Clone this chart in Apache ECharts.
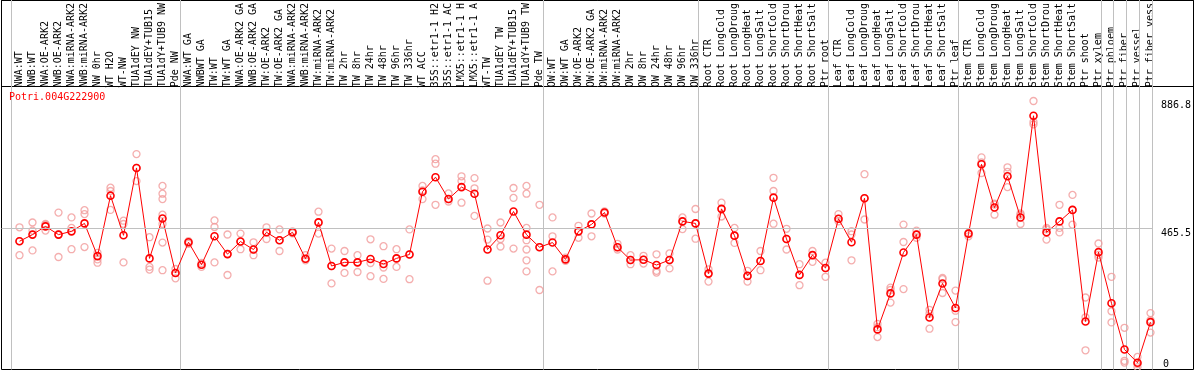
<!DOCTYPE html>
<html><head><meta charset="utf-8">
<script src="https://cdn.jsdelivr.net/npm/echarts@6/dist/echarts.min.js"></script>
<style>html,body{margin:0;padding:0;background:#fff}#c{width:1194px;height:370px}</style>
</head><body><div id="c"></div>
<script>
const chartTitle = 'Potri.004G222900';
const categories = [
 'NWA:WT','NWB:WT','NWA:OE-ARK2','NWB:OE-ARK2','NWA:miRNA-ARK2','NWB:miRNA-ARK2','NW 0hr','WT H2O','WT-NW','TUA1dEY NW',
 'TUA1dEY+TUB15','TUA1dY+TUB9 NW','Pde NW','NWA:WT GA','NWBWT GA','TW:WT','TW:WT GA','NWA:OE-ARK2 GA','NWB:OE-ARK2 GA','TW:OE-ARK2',
 'TW:OE-ARK2 GA','NWA:miRNA-ARK2','NWB:miRNA-ARK2','TW:miRNA-ARK2','TW:miRNA-ARK2','TW 2hr','TW 8hr','TW 24hr','TW 48hr','TW 96hr',
 'TW 336hr','WT ACC','35S::etr1-1 H2','35S::etr1-1 AC','LMX5::etr1-1 H','LMX5::etr1-1 A','WT-TW','TUA1dEY TW','TUA1dEY+TUB15','TUA1dY+TUB9 TW',
 'Pde TW','OW:WT','OW:WT GA','OW:OE-ARK2','OW:OE-ARK2 GA','OW:miRNA-ARK2','OW:miRNA-ARK2','OW 2hr','OW 8hr','OW 24hr',
 'OW 48hr','OW 96hr','OW 336hr','Root CTR','Root LongCold','Root LongDroug','Root LongHeat','Root LongSalt','Root ShortCold','Root ShortDrou',
 'Root ShortHeat','Root ShortSalt','Ptr root','Leaf CTR','Leaf LongCold','Leaf LongDroug','Leaf LongHeat','Leaf LongSalt','Leaf ShortCold','Leaf ShortDrou',
 'Leaf ShortHeat','Leaf ShortSalt','Ptr leaf','Stem CTR','Stem LongCold','Stem LongDroug','Stem LongHeat','Stem LongSalt','Stem ShortCold','Stem ShortDrou',
 'Stem ShortHeat','Stem ShortSalt','Ptr shoot','Ptr xylem','Ptr phloem','Ptr fiber','Ptr vessel','Ptr fiber vess'
];
const means = [
 427.5,449.6,477,449.6,460.5,487,378,579.4,447.3,671.8,
 370.3,503.5,321.9,424.2,349.4,444,384.6,426.4,400,457.3,
 430.8,457.3,369.2,490.3,345,357.1,357.1,368.1,351.6,370.3,
 383.5,592.6,641,568.4,608,586,400,447.3,526.6,449.5,
 407.7,423.1,367,460.5,483.6,523.3,407.7,364.8,365.9,348.3,
 364.8,493.6,487,319.7,535.4,446.2,312,361.5,572.8,435.2,
 315.3,381.3,338.4,502.4,424.2,570.6,133.7,253.7,390.1,449.5,
 173.3,286.7,205.2,452.8,683.9,539.8,644.3,506.8,845.7,457.2,
 493.6,532,160.1,391.2,220.6,66.6,22.6,157.9
];
const replicates = [
 [474,428,381],[490,463,397],[485,482,463],[523,450,375],[507,472,401],[531,518,408],[389,367,356],[606,595,532],[496,485,357],[718,672,628],
 [441,342,333],[612,586,568,516,485,423,331],[335,322,304],[428,424,419],[355,349,342],[497,475,357],[450,385,315],[453,426,401],[424,400,381],[474,457,435],
 [467,431,395],[460,457,454],[381,369,364],[526,490,453],[403,345,287],[395,357,322],[381,357,325],[434,355,311],[411,340,302],[401,370,342],
 [467,384,301],[612,597,568],[701,686,549],[587,568,560],[644,628,556],[638,604,512],[470,433,296],[490,435,410],[605,572,403],[612,586,472,431,400,364,327],
 [549,408,265],[507,444,327],[373,367,362],[479,461,439],[520,484,444],[527,523,520],[419,408,400],[381,365,351],[379,366,353],[384,329,323],
 [387,365,337],[507,494,468],[535,487,436],[334,320,293],[556,535,510],[472,446,422],[329,312,293],[395,362,331],[639,595,486],[469,435,400],
 [351,315,281],[395,381,359],[356,338,309],[518,502,494],[461,450,364],[651,571,500],[152,141,108],[273,265,223],[483,425,268],[463,450,439],
 [199,186,136],[305,301,255],[263,196,158],[455,453,444],[707,690,655],[553,550,516],[674,659,608],[520,515,485],[895,825,817],[472,467,433],
 [549,472,457],[582,532,483],[240,174,64],[420,382,373],[309,194,157],[139,29,23],[42,18,8],[188,164,123]
];
const yTickValuesTop = [886.8, 465.5];
const yTickValuesBottom = [0];
const yTickLabels = {'886.8':'886.8','465.5':'465.5','0':'0'};
const referenceValue = 465.5;
const groupLastIndex = [-1, 12, 40, 52, 62, 72, 83, 84, 85, 86, 87];

const MONO = '"DejaVu Sans Mono", monospace';
const Y_MAX = 934;
const SEP_OFFSET = 0.385;
const repPoints = [];
replicates.forEach((arr, i) => arr.forEach(v => repPoints.push([i, v])));

const chart = echarts.init(document.getElementById('c'), null, {renderer: 'canvas'});
chart.setOption({
  animation: false,
  backgroundColor: '#fff',
  title: {text: chartTitle, left: 9, top: 92, padding: 0,
    textStyle: {color: '#ff0000', fontSize: 10, fontWeight: 'normal', fontFamily: MONO}},
  grid: [
    {left: 1.5, right: 38.5, top: 86.5, bottom: 0.5, show: false},
    {left: 13, right: 37, top: 86.5, bottom: 0.5, show: false},
    {left: 1.5, right: 0.5, top: 0.5, bottom: 0.5, show: true, borderColor: '#000', borderWidth: 1, backgroundColor: 'transparent'},
    {left: 1.5, right: 0.5, top: 0.5, height: 86, show: true, borderColor: '#000', borderWidth: 1, backgroundColor: 'transparent'}
  ],
  xAxis: [
    {gridIndex: 0, type: 'value', min: -1.385, max: 87.385, show: false},
    {gridIndex: 1, type: 'category', position: 'top', data: categories, boundaryGap: true,
     axisLine: {show: false}, axisTick: {show: false}, splitLine: {show: false},
     axisLabel: {interval: 0, rotate: 90, margin: 2, color: '#000', fontSize: 10, fontFamily: MONO}},
    {gridIndex: 2, type: 'value', show: false},
    {gridIndex: 3, type: 'value', show: false}
  ],
  yAxis: [
    {gridIndex: 0, type: 'value', position: 'right', min: 0, max: Y_MAX,
     axisLine: {show: false}, axisTick: {show: false}, splitLine: {show: false},
     axisLabel: {customValues: yTickValuesTop, verticalAlign: 'top', align: 'left', margin: 8, color: '#000', fontSize: 10, fontFamily: MONO,
       formatter: v => yTickLabels[String(v)] ?? String(v)}},
    {gridIndex: 0, type: 'value', position: 'right', min: 0, max: Y_MAX,
     axisLine: {show: false}, axisTick: {show: false}, splitLine: {show: false},
     axisLabel: {customValues: yTickValuesBottom, verticalAlign: 'bottom', align: 'left', margin: 10, color: '#000', fontSize: 10, fontFamily: MONO,
       formatter: v => yTickLabels[String(v)] ?? String(v)}},
    {gridIndex: 1, type: 'value', min: 0, max: Y_MAX, show: false},
    {gridIndex: 2, type: 'value', show: false},
    {gridIndex: 3, type: 'value', show: false}
  ],
  series: [
    {type: 'custom', xAxisIndex: 0, yAxisIndex: 0, silent: true, z: 1, clip: false,
     data: groupLastIndex.map(g => [g]),
     renderItem: (params, api) => {
       const p = api.coord([api.value(0) + SEP_OFFSET, 0]);
       const x = Math.round(p[0] - 0.5) + 0.5;
       return {type: 'line', shape: {x1: x, y1: 0, x2: x, y2: p[1]},
               style: {stroke: '#c0c0c0', lineWidth: 1}};
     }},
    {type: 'line', xAxisIndex: 0, yAxisIndex: 0, data: [], silent: true, z: 1,
     markLine: {silent: true, symbol: 'none', label: {show: false},
       lineStyle: {color: '#c0c0c0', width: 1, type: 'solid'},
       data: [{yAxis: referenceValue}]}},
    {type: 'scatter', xAxisIndex: 1, yAxisIndex: 2, data: repPoints, symbol: 'circle', symbolSize: 7, z: 3,
     itemStyle: {color: 'rgba(0,0,0,0)', borderColor: '#f19a9a', borderWidth: 1.3}},
    {type: 'line', xAxisIndex: 1, yAxisIndex: 2, data: means, symbol: 'circle', symbolSize: 7, z: 4,
     lineStyle: {color: '#ff0000', width: 1},
     itemStyle: {color: 'rgba(0,0,0,0)', borderColor: '#ff0000', borderWidth: 1.6}}
  ]
});
</script></body></html>
